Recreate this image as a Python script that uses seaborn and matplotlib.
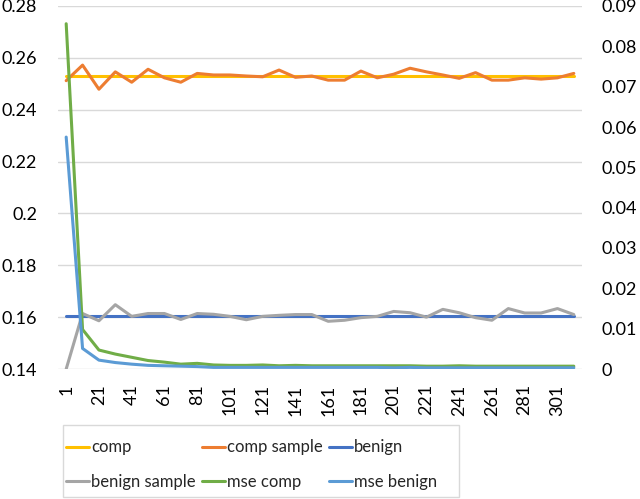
import numpy as np
import pandas as pd
import matplotlib
matplotlib.use("Agg")
import matplotlib.pyplot as plt
from matplotlib.ticker import FuncFormatter
from matplotlib.lines import Line2D
from matplotlib.patches import Rectangle
import seaborn as sns

iterations = list(range(1, 312, 10))  # 1, 11, ..., 311

comp = [0.253] * 32
comp_sample = [0.2512, 0.2572, 0.2479, 0.2546, 0.2506, 0.2556, 0.2523, 0.2506,
               0.2540, 0.2534, 0.2534, 0.2530, 0.2527, 0.2553, 0.2525, 0.2530,
               0.2514, 0.2514, 0.2549, 0.2523, 0.2537, 0.2560, 0.2546, 0.2534,
               0.2521, 0.2543, 0.2514, 0.2514, 0.2523, 0.2518, 0.2523, 0.2540]
benign = [0.1605] * 32
benign_sample = [0.1400, 0.1614, 0.1586, 0.1648, 0.1603, 0.1614, 0.1614, 0.1591,
                 0.1614, 0.1611, 0.1603, 0.1590, 0.1603, 0.1607, 0.1610, 0.1610,
                 0.1584, 0.1588, 0.1598, 0.1603, 0.1622, 0.1617, 0.1600, 0.1630,
                 0.1617, 0.1598, 0.1588, 0.1633, 0.1616, 0.1616, 0.1633, 0.1610]
mse_comp = [0.0856, 0.0098, 0.0047, 0.0037, 0.0029, 0.0021, 0.0017, 0.0012,
            0.0014, 0.0010, 0.0009, 0.0009, 0.0010, 0.0008, 0.0009, 0.0008,
            0.0008, 0.0008, 0.0008, 0.0008, 0.0008, 0.0008, 0.0007, 0.0007,
            0.0008, 0.0007, 0.0007, 0.0007, 0.0007, 0.0007, 0.0007, 0.0007]
mse_benign = [0.0575, 0.0051, 0.0022, 0.0016, 0.0012, 0.0009, 0.0008, 0.0007,
              0.0006, 0.0004, 0.0004, 0.0004, 0.0004, 0.0004, 0.0004, 0.0004,
              0.0004, 0.0004, 0.0004, 0.0004, 0.0003, 0.0004, 0.0003, 0.0003,
              0.0003, 0.0003, 0.0003, 0.0003, 0.0003, 0.0003, 0.0003, 0.0003]

left_ticks = [0.14, 0.16, 0.18, 0.20, 0.22, 0.24, 0.26, 0.28]
right_ticks = [0.0, 0.01, 0.02, 0.03, 0.04, 0.05, 0.06, 0.07, 0.08, 0.09]
x_tick_labels = list(range(1, 302, 20))

colors = {
    "comp": "#FFC000",
    "comp sample": "#ED7D31",
    "benign": "#4472C4",
    "benign sample": "#A5A5A5",
    "mse comp": "#70AD47",
    "mse benign": "#5B9BD5",
}

sns.set_theme(style="white")
plt.rcParams["font.family"] = ["Lato", "DejaVu Sans"]

fig = plt.figure(figsize=(6.4, 4.99), dpi=100)
ax = fig.add_axes([58 / 640, 1 - 369 / 499, 524 / 640, 363 / 499])
ax2 = ax.twinx()

lw = 2.2
df = pd.DataFrame({"it": iterations, "comp": comp, "comp sample": comp_sample,
                   "benign": benign, "benign sample": benign_sample,
                   "mse comp": mse_comp, "mse benign": mse_benign})

for name in ["comp", "comp sample", "benign", "benign sample"]:
    sns.lineplot(data=df, x="it", y=name, ax=ax, color=colors[name], lw=lw,
                 legend=False)
for name in ["mse comp", "mse benign"]:
    sns.lineplot(data=df, x="it", y=name, ax=ax2, color=colors[name], lw=lw,
                 legend=False)

ax.set_xlim(iterations[0] - 5, iterations[-1] + 5)
ax.set_ylim(0.14, 0.28)
ax2.set_ylim(0.0, 0.09)
ax.set_yticks(left_ticks)
ax2.set_yticks(right_ticks)
ax.set_xticks(x_tick_labels)
ax.set_xticklabels([str(v) for v in x_tick_labels], rotation=90)
fmt = FuncFormatter(lambda v, p: ("%.2f" % v).rstrip("0").rstrip(".") if v != 0 else "0")
ax.yaxis.set_major_formatter(fmt)
ax2.yaxis.set_major_formatter(fmt)

fs = 13
for a in (ax, ax2):
    a.set_xlabel("")
    a.set_ylabel("")
    for s in a.spines.values():
        s.set_visible(False)
    a.tick_params(length=0, labelsize=fs, colors="#000000")
ax.tick_params(axis="y", pad=15)
ax2.tick_params(axis="y", pad=14)
ax.tick_params(axis="x", pad=11)
ax.grid(axis="y", color="#D9D9D9", lw=1)
ax.grid(axis="x", visible=False)
ax2.grid(False)

# legend frame
fig.patches.append(Rectangle((63 / 640, 1 - 497 / 499), 396 / 640, 72 / 499,
                             transform=fig.transFigure, fill=False,
                             edgecolor="#D9D9D9", lw=1))

order = ["comp", "benign sample", "comp sample", "mse comp", "benign", "mse benign"]
handles = [Line2D([], [], color=colors[n], lw=lw) for n in order]
leg = fig.legend(handles, order, ncol=3, loc="center left",
                 bbox_to_anchor=(66 / 640, 1 - 464.5 / 499),
                 frameon=False, fontsize=12,
                 handlelength=1.4, handletextpad=0.1, columnspacing=0.38,
                 labelspacing=1.1, borderaxespad=0, borderpad=0)

fig.savefig("out.png", dpi=100, facecolor="white")
